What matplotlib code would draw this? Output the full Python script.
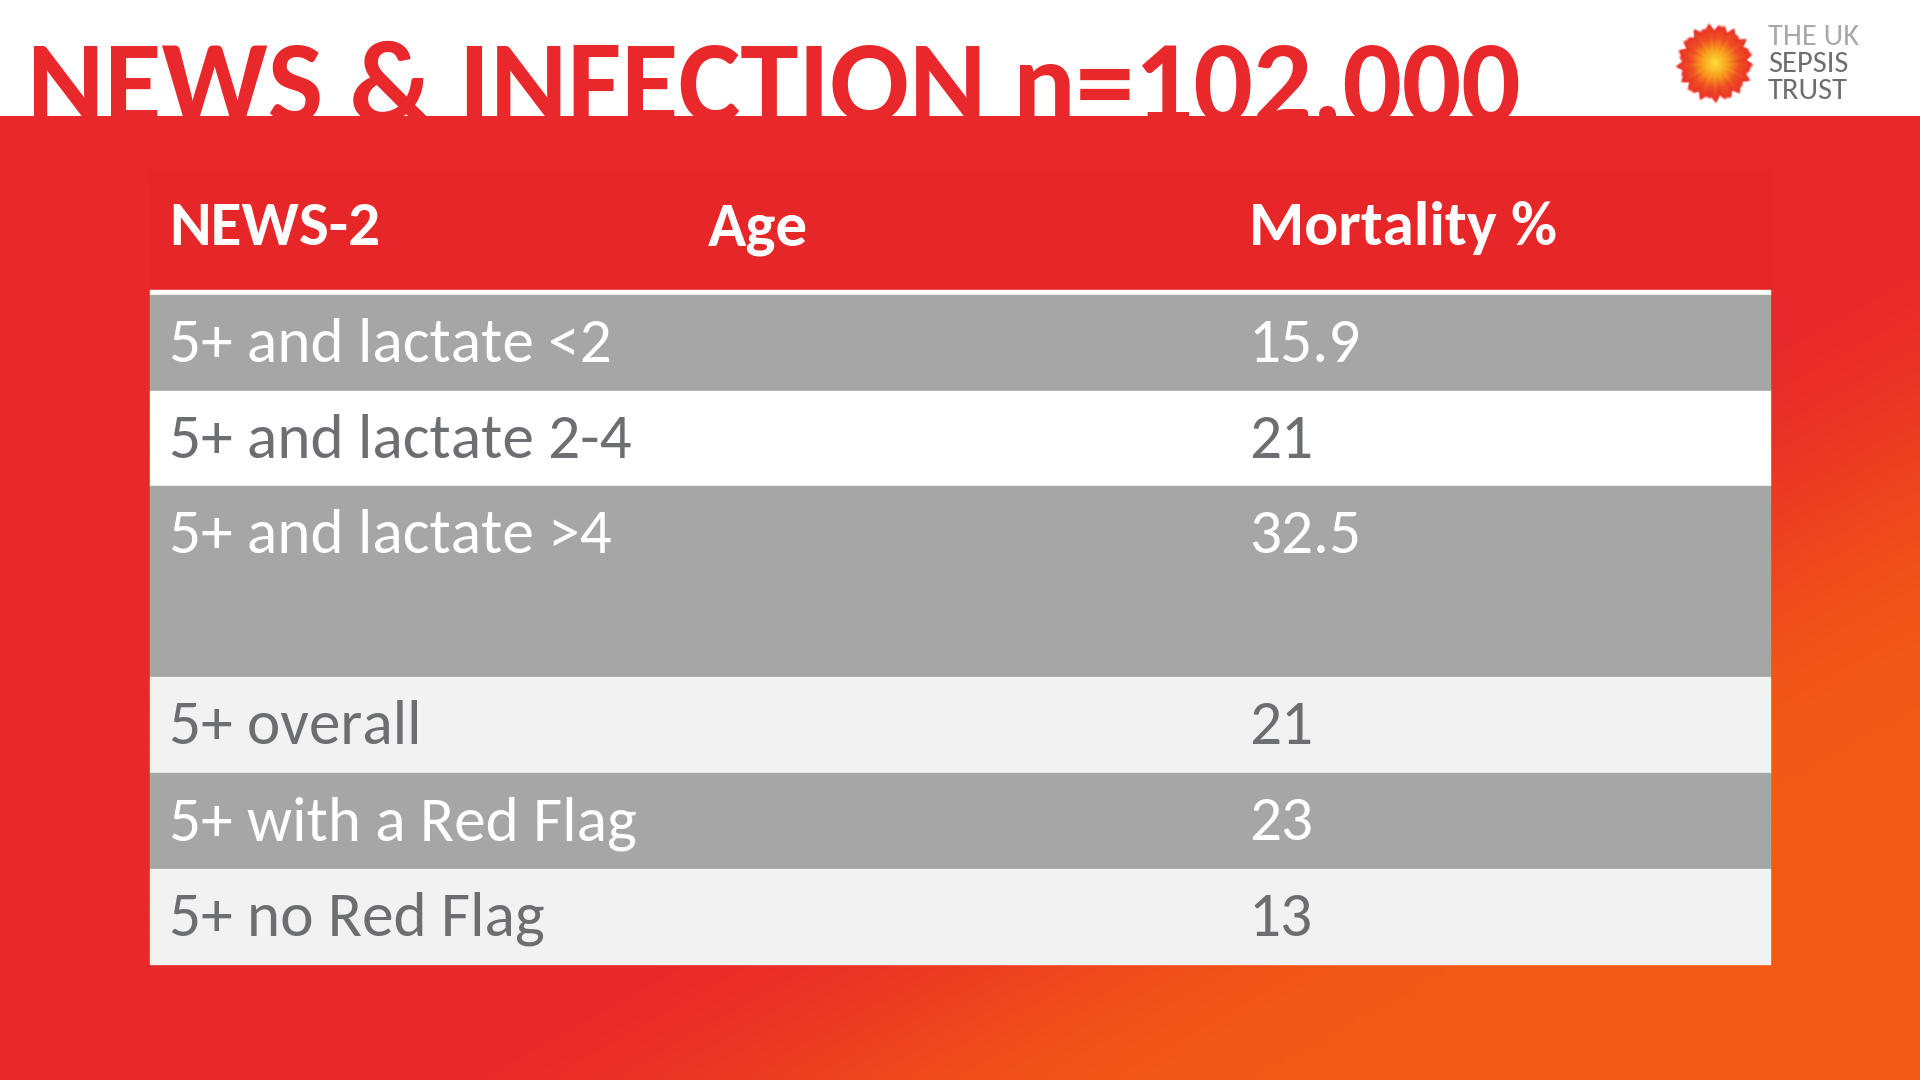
import numpy as np
import matplotlib
matplotlib.use('Agg')
import matplotlib.pyplot as plt
from matplotlib.patches import Rectangle

# table content
headers = ['NEWS-2', 'Age', 'Mortality %']
groups = ['5+ and lactate <2', '5+ and lactate 2-4', '5+ and lactate >4',
          '5+ overall', '5+ with a Red Flag', '5+ no Red Flag']
mortality = ['15.9', '21', '32.5', '21', '23', '13']
row_span = [1, 1, 2, 1, 1, 1]
row_fill = ['#A6A6A6', '#FFFFFF', '#A6A6A6', '#F2F2F2', '#A6A6A6', '#F2F2F2']
row_text = ['white', '#6D6E71', 'white', '#6D6E71', 'white', '#6D6E71']

title = 'NEWS & INFECTION n=102,000'
logo_lines = ['THE UK', 'SEPSIS', 'TRUST']

RED = np.array([232, 40, 42]) / 255
ORANGE = np.array([243, 90, 22]) / 255
FONT = ['Carlito', 'Lato', 'DejaVu Sans']

W, H = 1920, 1080
fig = plt.figure(figsize=(19.2, 10.8), dpi=100)
ax = fig.add_axes([0, 0, 1, 1])
ax.set_xlim(0, W)
ax.set_ylim(H, 0)
ax.axis('off')

# white band + title (red band overlaps the bottom of the letters)
band_top = 116
ax.add_patch(Rectangle((0, 0), W, band_top, color='white', zorder=0))
ax.text(27, 122, title, fontsize=84.4, fontweight='bold', color='#E8282A',
        family=FONT, va='baseline', ha='left', zorder=1)

# red -> orange background
gx, gy = np.meshgrid(np.linspace(0, 1, 192), np.linspace(band_top / H, 1, 97))
t = np.clip((gx + gy - 1.2) / 0.45, 0, 1)
t = t * t * (3 - 2 * t)
bg = RED[None, None, :] * (1 - t[..., None]) + ORANGE[None, None, :] * t[..., None]
ax.imshow(bg, extent=[0, W, H, band_top], interpolation='bilinear',
          aspect='auto', zorder=2)

# logo: sunburst + wordmark
n = 200
lx, ly = np.meshgrid(np.linspace(-1, 1, n), np.linspace(-1, 1, n))
r = np.hypot(lx, ly)
th = np.arctan2(ly, lx)
edge = 0.93 + 0.05 * np.sin(17 * th) + 0.03 * np.sin(29 * th + 1)
rr = r / edge
cols = np.array([[255, 222, 60], [248, 160, 30], [240, 80, 35], [232, 45, 40]]) / 255
stops = np.array([0.0, 0.35, 0.65, 1.0])
img = np.zeros((n, n, 4))
for k in range(3):
    img[..., k] = np.interp(rr, stops, cols[:, k])
img[..., 3] = np.clip((1.0 - rr) / 0.08, 0, 1)
ax.imshow(img, extent=[1675, 1755, 104, 22], interpolation='bilinear',
          aspect='auto', zorder=3)
for i, (line, c) in enumerate(zip(logo_lines, ['#A7A9AC', '#6D6E71', '#6D6E71'])):
    ax.text(1768, 45 + i * 27, line, fontsize=22, color=c, family=FONT,
            va='baseline', ha='left', zorder=3)

# table
left, right = 150, 1770
ax.add_patch(Rectangle((left, 172), right - left, 118, color='#E72727', zorder=3))
ax.add_patch(Rectangle((left, 290), right - left, 5, color='white', zorder=3))
col_x = [169, 708, 1249]
for x, h in zip(col_x, headers):
    ax.text(x, 245, h, fontsize=45.5, fontweight='bold', color='white',
            family=FONT, va='baseline', ha='left', zorder=4)

unit = 95.6
top = 295
for g, m, span, fill, tc in zip(groups, mortality, row_span, row_fill, row_text):
    ax.add_patch(Rectangle((left, top), right - left, unit * span, color=fill, zorder=3))
    ax.text(col_x[0], top + 67, g, fontsize=45.5, color=tc, family=FONT,
            va='baseline', ha='left', zorder=4)
    ax.text(col_x[2], top + 67, m, fontsize=45.5, color=tc, family=FONT,
            va='baseline', ha='left', zorder=4)
    top += unit * span

fig.savefig('out.png', dpi=100)
